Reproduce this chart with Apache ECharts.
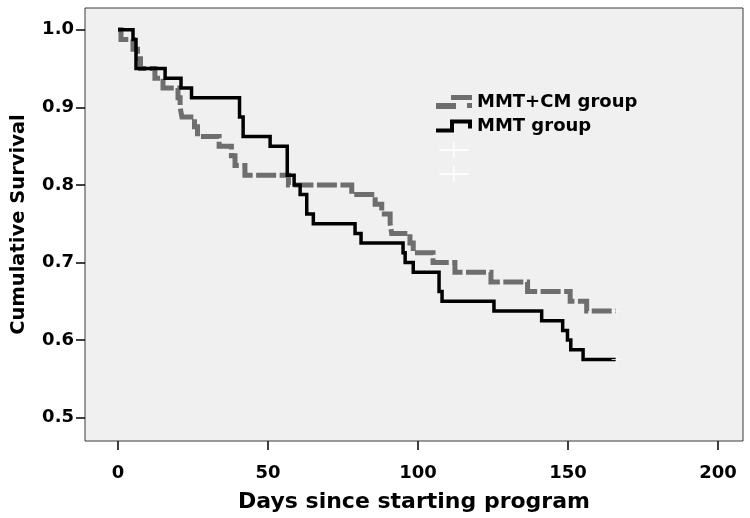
<!DOCTYPE html>
<html>
<head>
<meta charset="utf-8">
<script src="https://cdn.jsdelivr.net/npm/echarts@6/dist/echarts.min.js"></script>
<style>
html,body{margin:0;padding:0;background:#fff;}
#chart{width:750px;height:518px;}
</style>
</head>
<body>
<div id="chart"></div>
<script>
// Kaplan-Meier step data (day of event, survival after event)
var daysMMTCM = [0, 1, 5, 6.5, 7.5, 12.3, 15, 20, 20.7, 21.3, 25.5, 26.5, 33.7, 37.8, 39, 42.3, 56.8, 77.9, 85.7, 87.9, 90.7, 91.2, 97.3, 98.4, 105, 112.3, 124.3, 136.5, 150.7, 156.2, 166];
var survMMTCM = [1.0, 0.9875, 0.975, 0.9625, 0.95, 0.9375, 0.925, 0.9125, 0.9, 0.8875, 0.875, 0.8625, 0.85, 0.8375, 0.825, 0.8125, 0.8, 0.7875, 0.775, 0.7625, 0.75, 0.7375, 0.725, 0.7125, 0.7, 0.6875, 0.675, 0.6625, 0.65, 0.6375, 0.6375];
var daysMMT = [0, 5, 6, 15.7, 21, 24.5, 40.5, 41.7, 50.7, 56.4, 58.7, 60.7, 62.9, 65.1, 79, 81, 95, 95.7, 98.4, 107, 108, 125.3, 141.2, 148.2, 149.8, 150.9, 155, 166];
var survMMT = [1.0, 0.9875, 0.95, 0.9375, 0.925, 0.9125, 0.8875, 0.8625, 0.85, 0.8125, 0.8, 0.7875, 0.7625, 0.75, 0.7375, 0.725, 0.7125, 0.7, 0.6875, 0.6625, 0.65, 0.6375, 0.625, 0.6125, 0.6, 0.5875, 0.575, 0.575];
// censored observations (end of follow-up)
var censorDaysMMTCM = [166];
var censorSurvMMTCM = [0.6375];
var censorDaysMMT = [166];
var censorSurvMMT = [0.575];
// axis ticks
var xTicks = [0, 50, 100, 150, 200];
var yTicks = [0.5, 0.6, 0.7, 0.8, 0.9, 1.0];
var seriesNames = ['MMT+CM group', 'MMT group', 'MMT+CM group-censored', 'MMT group-censored'];

function pairs(xs, ys) { return xs.map(function (x, i) { return [x, ys[i]]; }); }

var FONT = 'DejaVu Sans';
var grayIcon = 'path://M0 8 L20 8 L20 14 L0 14 Z M15 0 L36 0 L36 5 L15 5 Z M31 8 L36 8 L36 13 L31 13 Z';
var blackIcon = 'path://M0 9 L14 9 L14 0 L36 0 L36 9 L32 9 L32 4 L18 4 L18 13 L0 13 Z';
var crossIcon = 'path://M0 8 L33 8 L33 10 L0 10 Z M15.5 0 L17.5 0 L17.5 18 L15.5 18 Z';
var plusSym = 'path://M0 4 L9 4 L9 5 L0 5 Z M4 0 L5 0 L5 9 L4 9 Z';

var chart = echarts.init(document.getElementById('chart'), null, {renderer: 'canvas'});
chart.setOption({
  animation: false,
  backgroundColor: '#ffffff',
  grid: {
    left: 85, right: 7, top: 8, bottom: 77,
    outerBoundsMode: 'none', containLabel: false,
    show: true, backgroundColor: '#f0f0f0', borderColor: '#3a3a3a', borderWidth: 1
  },
  legend: {
    orient: 'vertical', left: 431, top: 88,
    itemWidth: 36, itemHeight: 16, itemGap: 6,
    selectedMode: false,
    textStyle: {fontFamily: FONT, fontWeight: 'bold', fontSize: 18, color: '#000'},
    formatter: function (n) { return n.indexOf('censored') >= 0 ? ' ' : n; },
    data: [
      {name: seriesNames[0], icon: grayIcon},
      {name: seriesNames[1], icon: blackIcon},
      {name: seriesNames[2], icon: crossIcon},
      {name: seriesNames[3], icon: crossIcon}
    ]
  },
  xAxis: {
    type: 'value', min: -11, max: 208.3,
    name: 'Days since starting program', nameLocation: 'middle', nameGap: 50,
    nameTextStyle: {fontFamily: FONT, fontWeight: 'bold', fontSize: 22, color: '#000'},
    axisLine: {show: false, onZero: false},
    axisTick: {show: true, inside: false, length: 9, customValues: xTicks, lineStyle: {color: '#000', width: 1.5}},
    axisLabel: {customValues: xTicks, margin: 23, fontFamily: FONT, fontWeight: 'bold', fontSize: 18, color: '#000'},
    splitLine: {show: false}
  },
  yAxis: {
    type: 'value', min: 0.47, max: 1.028,
    name: 'Cumulative Survival', nameLocation: 'middle', nameGap: 56,
    nameTextStyle: {fontFamily: FONT, fontWeight: 'bold', fontSize: 19.5, color: '#000'},
    axisLine: {show: false, onZero: false},
    axisTick: {show: true, inside: false, length: 9, customValues: yTicks, lineStyle: {color: '#000', width: 1.5}},
    axisLabel: {customValues: yTicks, margin: 11, fontFamily: FONT, fontWeight: 'bold', fontSize: 18, color: '#000',
      formatter: function (v) { return v.toFixed(1); }},
    splitLine: {show: false}
  },
  series: [
    {
      name: seriesNames[0], type: 'line', step: 'end', showSymbol: false, symbol: 'none',
      data: pairs(daysMMTCM, survMMTCM),
      itemStyle: {color: '#6e6e6e'},
      lineStyle: {color: '#6e6e6e', width: 5, type: [20, 3.5], cap: 'butt', join: 'miter'},
      z: 2
    },
    {
      name: seriesNames[1], type: 'line', step: 'end', showSymbol: false, symbol: 'none',
      data: pairs(daysMMT, survMMT),
      itemStyle: {color: '#000000'},
      lineStyle: {color: '#000000', width: 3.5, cap: 'butt', join: 'miter'},
      z: 3
    },
    {
      name: seriesNames[2], type: 'scatter', symbol: plusSym, symbolSize: 9,
      data: pairs(censorDaysMMTCM, censorSurvMMTCM),
      itemStyle: {color: '#ffffff'}, z: 4
    },
    {
      name: seriesNames[3], type: 'scatter', symbol: plusSym, symbolSize: 9,
      data: pairs(censorDaysMMT, censorSurvMMT),
      itemStyle: {color: '#ffffff'}, z: 4
    }
  ]
});
</script>
</body>
</html>
